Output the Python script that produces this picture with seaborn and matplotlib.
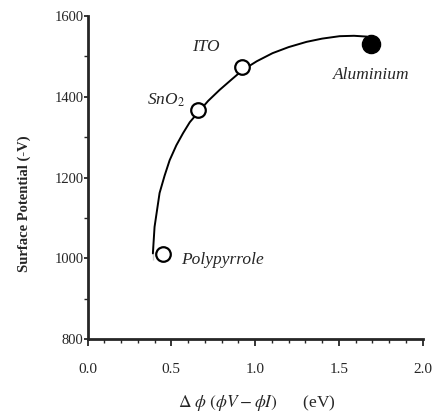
import matplotlib
matplotlib.use("Agg")
import matplotlib.pyplot as plt
import seaborn as sns
import pandas as pd
from matplotlib.ticker import MultipleLocator

# Data
materials = ["Polypyrrole", "SnO$_2$", "ITO", "Aluminium"]
delta_phi = [0.45, 0.66, 0.92, 1.69]
surface_potential = [1010, 1367, 1474, 1531]
filled = [False, False, False, True]

curve_x = [0.39, 0.39, 0.40, 0.415, 0.43, 0.46, 0.49, 0.53, 0.57, 0.61, 0.657, 0.72,
           0.788, 0.86, 0.925, 1.01, 1.104, 1.20, 1.307, 1.40, 1.504, 1.59, 1.666]
curve_y = [995, 1030, 1078, 1120, 1162, 1205, 1243, 1280, 1310, 1337, 1360, 1390,
           1417, 1443, 1466, 1488, 1508, 1523, 1536, 1544, 1550, 1551, 1549]

x_ticks = [0.0, 0.5, 1.0, 1.5, 2.0]
y_ticks = [800, 1000, 1200, 1400, 1600]

sns.set_style("ticks")
plt.rcParams["font.family"] = ["Liberation Serif", "DejaVu Serif"]
plt.rcParams["mathtext.fontset"] = "stix"

fig = plt.figure(figsize=(4.38, 4.12), dpi=100)
ax = fig.add_axes([0.1998, 0.1765, 0.7653, 0.7847])

curve_df = pd.DataFrame({"x": curve_x, "y": curve_y})
sns.lineplot(data=curve_df, x="x", y="y", sort=False, color="black", lw=1.4, ax=ax, zorder=2)

pts = pd.DataFrame({"x": delta_phi, "y": surface_potential, "filled": filled})
open_pts = pts[~pts["filled"]]
fill_pts = pts[pts["filled"]]
sns.scatterplot(data=open_pts, x="x", y="y", s=110, facecolor="white", edgecolor="black",
                linewidth=1.6, ax=ax, zorder=3)
sns.scatterplot(data=fill_pts, x="x", y="y", s=170, color="black", edgecolor="black",
                linewidth=1, ax=ax, zorder=3)

# label anchor positions (data coords)
label_pos = {
    "Polypyrrole": (0.56, 996, "left"),
    "SnO$_2$": (0.466, 1392, "center"),
    "ITO": (0.705, 1523, "center"),
    "Aluminium": (1.69, 1454, "center"),
}
for name in materials:
    lx, ly, ha = label_pos[name]
    ax.text(lx, ly, name, fontstyle="italic", fontsize=12.5, ha=ha, va="center")

ax.set_xlim(0, 2.0)
ax.set_ylim(800, 1600)
ax.set_xticks(x_ticks)
ax.set_yticks(y_ticks)
ax.set_xticklabels([f"{v:.1f}" for v in x_ticks], fontsize=11)
ax.set_yticklabels([str(v) for v in y_ticks], fontsize=10.5)
ax.xaxis.set_minor_locator(MultipleLocator(0.1))
ax.yaxis.set_minor_locator(MultipleLocator(100))
ax.tick_params(axis="x", which="major", direction="out", length=5, width=1.3, pad=12)
ax.tick_params(axis="x", which="minor", direction="out", length=3, width=1.0)
ax.tick_params(axis="y", which="major", direction="out", length=3, width=1.3, pad=0)
ax.tick_params(axis="y", which="minor", direction="out", length=3, width=1.0)
for side in ["top", "right"]:
    ax.spines[side].set_visible(False)
for side in ["left", "bottom"]:
    ax.spines[side].set_linewidth(2)

ax.set_xlabel(r"$\Delta\ \phi\ (\phi V-\phi I)$      (eV)", fontsize=12.5)
ax.xaxis.set_label_coords(0.505, -0.165)
ax.set_ylabel("Surface Potential (-V)", fontsize=10.5, fontweight="bold")
ax.yaxis.set_label_coords(-0.17, 0.42)

fig.savefig("out.png", dpi=100)
